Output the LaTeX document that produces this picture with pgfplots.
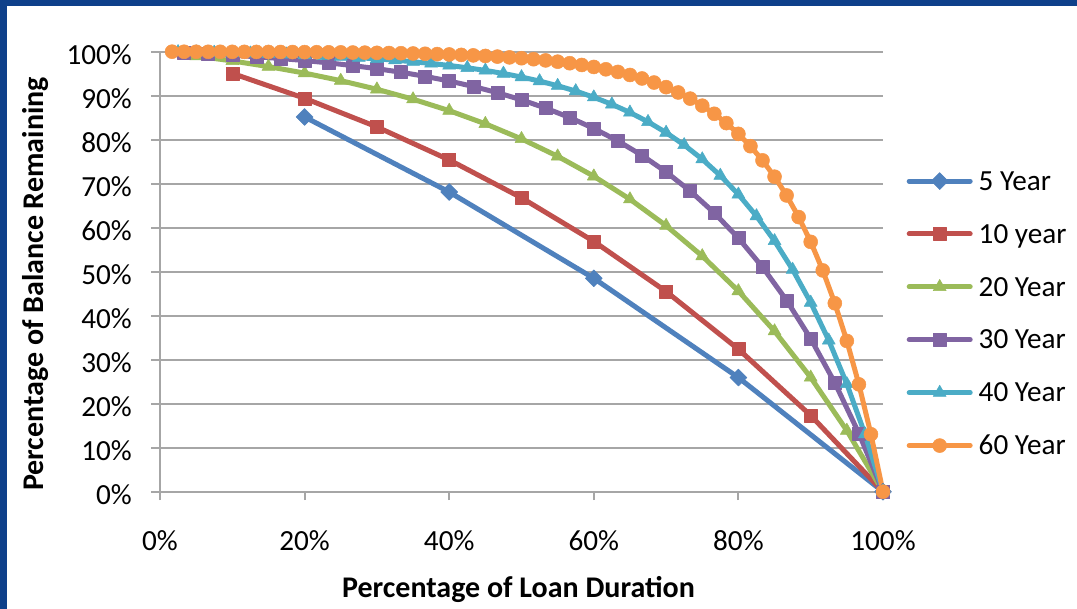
\documentclass[border=0pt]{standalone}
\usepackage{fontspec}
\setmainfont{Carlito}
\usepackage{pgfplots}
\pgfplotsset{compat=1.18}
\definecolor{slideblue}{RGB}{14,64,138}
\definecolor{gridgray}{RGB}{166,166,166}
\definecolor{cblue}{RGB}{79,129,189}
\definecolor{cred}{RGB}{192,80,77}
\definecolor{cgreen}{RGB}{155,187,89}
\definecolor{cpurple}{RGB}{128,100,162}
\definecolor{ccyan}{RGB}{75,172,198}
\definecolor{corange}{RGB}{247,150,70}
\newcommand\chartfont{\fontsize{29.2pt}{34pt}\selectfont}
\newcommand\titlefont{\fontsize{30pt}{36pt}\selectfont}
\begin{document}
\begin{tikzpicture}[x=1pt,y=1pt]
\useasboundingbox (0,0) rectangle (1077,609);
\fill[slideblue] (0,0) rectangle (1077,609);
\fill[white] (7,0) rectangle (1077,603);
\begin{axis}[
  at={(160pt,117.3pt)}, anchor=south west,
  scale only axis, width=723pt, height=440pt,
  xmin=0, xmax=100, ymin=0, ymax=100,
  clip=false,
  axis x line=bottom, axis y line=left,
  axis line style={-, draw=gridgray, line width=2pt},
  xtick={0,20,...,100}, ytick={0,10,...,100},
  minor tick num=0,
  tick align=outside, major tick length=8.5pt,
  tick style={draw=gridgray, line width=2pt},
  ymajorgrids, grid style={draw=gridgray, line width=2pt},
  /pgf/number format/assume math mode=true,
  font=\chartfont,
  xticklabel={\pgfmathprintnumber{\tick}\%},
  yticklabel={\pgfmathprintnumber{\tick}\%},
  xticklabel style={anchor=base, inner sep=0pt, yshift=-50pt},
  yticklabel style={anchor=base east, inner sep=0pt, xshift=-19.5pt, yshift=-13.3pt},
  every axis plot/.append style={line width=5pt, line join=round, line cap=round},
  legend image code/.code={\draw[#1, mark repeat=2, mark phase=2] plot coordinates {(0pt,9.2pt) (30.5pt,9.2pt) (61pt,9.2pt)};},
  legend style={at={(1.03278,0.73500)}, anchor=north west, draw=none, fill=none,
    inner sep=0pt, outer sep=0pt, row sep=27.4pt, column sep=4pt, font=\chartfont,
    cells={anchor=base west, inner sep=0pt, text height=20pt, text depth=6pt}},
]
\addplot[cblue, mark=square*, mark size=6pt, mark options={rotate=45, solid, line width=0.5pt}] coordinates {
(20,85.17) (40,68.11) (60,48.50) (80,25.94) (100,0)};
\addlegendentry{5 Year}
\addplot[cred, mark=square*, mark size=6.5pt, mark options={solid, line width=0.5pt}] coordinates {
(10,95.07) (20,89.41) (30,82.90) (40,75.41) (50,66.79) (60,56.89) (70,45.49) (80,32.39) (90,17.33) (100,0)};
\addlegendentry{10 year}
\addplot[cgreen, mark=triangle*, mark size=7.5pt, mark options={solid, line width=0.5pt}] coordinates {
(5,99.02) (10,97.90) (15,96.61) (20,95.13) (25,93.42) (30,91.46) (35,89.20) (40,86.60) (45,83.61) (50,80.18) (55,76.23) (60,71.69) (65,66.47) (70,60.46) (75,53.55) (80,45.61) (85,36.48) (90,25.97) (95,13.89) (100,0)};
\addlegendentry{20 Year}
\addplot[cpurple, mark=square*, mark size=6.5pt, mark options={solid, line width=0.5pt}] coordinates {
(3.333,99.77) (6.667,99.51) (10,99.20) (13.333,98.85) (16.667,98.45) (20,97.99) (23.333,97.45) (26.667,96.84) (30,96.14) (33.333,95.33) (36.667,94.40) (40,93.33) (43.333,92.10) (46.667,90.68) (50,89.06) (53.333,87.18) (56.667,85.03) (60,82.56) (63.333,79.71) (66.667,76.44) (70,72.67) (73.333,68.34) (76.667,63.36) (80,57.64) (83.333,51.05) (86.667,43.48) (90,34.77) (93.333,24.76) (96.667,13.24) (100,0)};
\addlegendentry{30 Year}
\addplot[ccyan, mark=triangle*, mark size=7.5pt, mark options={solid, line width=0.5pt}] coordinates {
(2.5,99.94) (5,99.88) (7.5,99.80) (10,99.72) (12.5,99.62) (15,99.51) (17.5,99.38) (20,99.23) (22.5,99.06) (25,98.86) (27.5,98.63) (30,98.37) (32.5,98.07) (35,97.72) (37.5,97.33) (40,96.87) (42.5,96.34) (45,95.74) (47.5,95.04) (50,94.24) (52.5,93.32) (55,92.26) (57.5,91.05) (60,89.65) (62.5,88.04) (65,86.19) (67.5,84.06) (70,81.61) (72.5,78.80) (75,75.56) (77.5,71.84) (80,67.56) (82.5,62.64) (85,56.98) (87.5,50.47) (90,42.99) (92.5,34.38) (95,24.48) (97.5,13.09) (100,0)};
\addlegendentry{40 Year}
\addplot[corange, mark=*, mark size=7pt, mark options={solid, line width=0.5pt}] coordinates {
(1.667,100.00) (3.333,99.99) (5,99.99) (6.667,99.98) (8.333,99.98) (10,99.97) (11.667,99.96) (13.333,99.95) (15,99.94) (16.667,99.93) (18.333,99.92) (20,99.90) (21.667,99.88) (23.333,99.86) (25,99.84) (26.667,99.81) (28.333,99.78) (30,99.74) (31.667,99.70) (33.333,99.65) (35,99.59) (36.667,99.53) (38.333,99.45) (40,99.37) (41.667,99.27) (43.333,99.16) (45,99.03) (46.667,98.88) (48.333,98.71) (50,98.51) (51.667,98.29) (53.333,98.02) (55,97.73) (56.667,97.38) (58.333,96.98) (60,96.53) (61.667,96.00) (63.333,95.40) (65,94.71) (66.667,93.91) (68.333,92.99) (70,91.94) (71.667,90.73) (73.333,89.33) (75,87.73) (76.667,85.89) (78.333,83.77) (80,81.33) (81.667,78.52) (83.333,75.30) (85,71.59) (86.667,67.33) (88.333,62.42) (90,56.78) (91.667,50.29) (93.333,42.83) (95,34.26) (96.667,24.39) (98.333,13.05) (100,0)};
\addlegendentry{60 Year}
\end{axis}
\node[font=\bfseries\titlefont, anchor=base, inner sep=0pt] at (518.5,11.7) {Percentage of Loan Duration};
\node[font=\bfseries\titlefont, anchor=base, rotate=90, inner sep=0pt] at (43.3,325) {Percentage of Balance Remaining};
\end{tikzpicture}
\end{document}
